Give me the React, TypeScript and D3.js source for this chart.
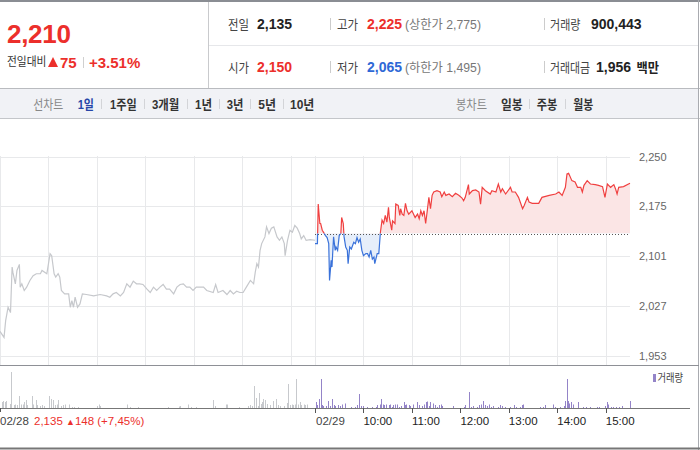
import React from "react";
import * as d3 from "d3";

// ---------- data ----------
const PREV_CLOSE = 2135;

// 02/28 (previous day) minute-from-09:00 and price
const prevTimes = [0,5,7,10,13,15,16,19,21,24,25,27,30,33,37,41,45,50,52,58,62,64,67,69,72,74,76,80,85,87,89,91,93,96,99,102,107,116,124,132,136,140,144,149,153,157,161,165,169,173,177,182,186,190,194,198,202,206,210,215,219,223,227,231,235,239,243,248,252,256,264,267,270,276,281,285,289,293,297,301,305,310,314,316,318,320,322,324,328,330,333,336,339,343,346,349,352,353,356,359,362,365,368,371,373,376,379,384,390];
const prevPrices = [1989,1980,2005,2025,2017,2085,2077,2060,2080,2089,2055,2060,2050,2055,2065,2072,2075,2075,2080,2075,2105,2102,2075,2070,2075,2070,2050,2045,2045,2025,2035,2025,2040,2025,2030,2045,2044,2042,2044,2042,2040,2045,2047,2042,2047,2060,2055,2064,2060,2060,2059,2052,2047,2055,2050,2055,2059,2052,2052,2045,2055,2059,2060,2055,2055,2050,2055,2055,2055,2050,2047,2059,2047,2050,2044,2050,2045,2049,2047,2047,2055,2065,2060,2077,2090,2085,2110,2120,2130,2145,2135,2143,2145,2130,2125,2130,2120,2102,2125,2140,2137,2147,2143,2135,2127,2132,2125,2126,2125];

// 02/29 (today)
const todayTimes = [0,3,4,6,7,9,11,13,15,17,18,20,21,23,25,26,28,30,32,33,35,36,38,40,41,43,45,48,50,52,54,56,58,60,63,65,67,69,71,73,74,77,79,81,83,85,87,89,91,92,95,96,99,100,103,105,106,108,110,112,114,116,120,124,127,129,131,133,135,137,139,141,143,145,147,151,155,157,160,162,166,170,174,178,182,184,186,190,191,195,199,203,205,207,211,217,219,224,227,230,232,236,242,244,248,252,257,259,263,265,269,277,281,290,298,302,306,310,312,314,318,322,325,329,331,333,337,341,347,351,356,359,362,366,370,372,374,376,382,390];
const todayPrices = [2120,2120,2179,2150,2150,2140,2136,2132,2129,2120,2065,2095,2085,2130,2110,2115,2110,2132,2135,2159,2150,2130,2115,2110,2090,2115,2112,2122,2120,2129,2122,2127,2110,2102,2105,2105,2100,2110,2097,2100,2090,2105,2105,2137,2155,2150,2162,2152,2174,2159,2140,2154,2150,2179,2177,2162,2172,2164,2162,2180,2169,2164,2169,2159,2164,2157,2169,2162,2169,2150,2169,2189,2172,2192,2197,2199,2197,2190,2197,2192,2194,2190,2195,2192,2188,2184,2189,2208,2194,2199,2200,2197,2179,2204,2199,2194,2199,2197,2209,2197,2202,2194,2204,2197,2197,2189,2172,2177,2189,2182,2180,2180,2189,2192,2194,2197,2192,2204,2224,2225,2214,2212,2204,2204,2197,2207,2214,2209,2208,2207,2205,2189,2209,2204,2208,2202,2194,2204,2205,2210];

// volume (thousand shares)
const prevVolTimes = [2,4,6,8,12,14,17,19,21,24,26,28,30,32,34,39,41,45,46,49,52,54,61,63,65,68,70,72,76,78,80,86,89,92,97,120,122,124,157,161,171,208,221,223,233,236,243,264,266,280,281,296,307,310,312,315,317,319,321,323,324,326,328,330,334,338,342,344,347,352,355,357,359,361,363,365,367,369,371,373,376,378,380];
const prevVols = [6,7,6,7,4,36,3,3.5,3,12,3.5,3.5,6,8,3,12,3.5,8,3,2,3,2,12,9,8,3,3.5,8,2,3,3.5,3.5,1,1,1,2,3.5,2,3.5,1,1,1,1.5,2,3.5,1,1,8,2,3.5,3.5,1,2,3,2,22,10,2,15,4,6,9,8,4,3,7,9,3,2,2,5,24,3,3.5,3,3.5,29,3.5,6,3,3.5,3,3.5];
const todayVolTimes = [1,3,5,7,9,10,13,16,19,21,23,25,29,31,34,37,45,50,52,55,57,59,64,71,76,77,80,82,84,85,88,91,93,95,97,99,102,104,107,110,112,113,116,118,121,126,129,132,135,137,139,141,142,146,149,151,154,156,157,171,184,186,191,193,195,201,203,206,208,211,213,215,218,220,227,229,232,235,241,246,249,254,256,258,279,282,285,295,297,303,308,310,312,313,315,317,319,325,332,336,341,349,352,359,361,363,366,369,373,376,380,390];
const todayVols = [6,3,9,29,3,2,2,7,2,9,3,2,3,2,3.5,4.5,1,1,3,14,2,2,1,1,1,3,3.5,9,3.5,3,3.5,3,3.5,1,3,3.5,3.5,1,2,6,3,3.5,3,2,3.5,6,3,2,3.5,6,6.5,2,6,4.5,3,1,3,3.5,2,2,1,3,16,1,2,1,3,3.5,7,3,2,3.5,1,2,1,3,2,1,1,3,1,1,3,3.5,1,1,3,3.5,1,1,2,7,29,7,4.5,6,3.5,6,1,1,1,1,1,2,6,3.5,1,1,1,1,2,7];

const priceTickValues = [2250, 2175.75, 2101.5, 2027.25, 1953];
const priceTickLabels = ["2,250", "2,175", "2,101", "2,027", "1,953"];
const hourMinutes = [60, 120, 180, 240, 300, 360];
const hourLabels = ["10:00", "11:00", "12:00", "13:00", "14:00", "15:00"];
const periodTabs = ["1일", "1주일", "3개월", "1년", "3년", "5년", "10년"];
const periodTabX = [77.7, 110, 152, 195, 226.7, 258.3, 290];
const periodTabW = [16.3, 26.7, 27.3, 17, 16.7, 17.7, 24.3];
const periodSepX = [101, 144, 187, 219, 250, 283];
const candleTabs = ["일봉", "주봉", "월봉"];
const candleTabX = [501, 536.7, 573.3];
const candleTabW = [21.7, 20.6, 20];
const candleSepX = [529, 565];

const RED = "#ec2f2b";
const BLUE = "#2e68d6";
const FONT = "'Liberation Sans', Arial, 'Noto Sans CJK KR', sans-serif";

function KText(props: any) {
  const { w, children, ...rest } = props;
  return (
    <text {...rest} textLength={w} lengthAdjust="spacingAndGlyphs">
      {children}
    </text>
  );
}

export default function App() {
  const x = d3.scaleLinear().domain([0, 780]).range([0, 630]);
  const y = d3.scaleLinear().domain([1953, 2250]).range([355.5, 156.5]);
  const yv = d3.scaleLinear().domain([0, 40]).range([408, 368]);

  const prev = prevTimes.map((t, i) => ({ t, p: prevPrices[i] }));
  const today = todayTimes.map((t, i) => ({ t: t + 390, p: todayPrices[i] }));
  const line = d3.line<any>().x((d) => x(d.t)).y((d) => y(d.p));
  const base = y(PREV_CLOSE);
  const area = d3.area<any>().x((d) => x(d.t)).y0(base).y1((d) => y(d.p));

  const vLines: number[] = [];
  hourMinutes.forEach((m) => vLines.push(m));
  vLines.push(390);
  hourMinutes.forEach((m) => vLines.push(390 + m));

  const px = (v: number) => Math.round(v) + 0.5;

  return (
    <svg width={700} height={450} style={{ position: "absolute", left: 0, top: 0, background: "#fff" }} fontFamily={FONT}>
      <defs>
        <clipPath id="above"><rect x={0} y={0} width={700} height={base} /></clipPath>
        <clipPath id="below"><rect x={0} y={base} width={700} height={450 - base} /></clipPath>
      </defs>
      <rect x={0} y={0} width={700} height={450} fill="#fff" />

      {/* header */}
      <line x1={0} x2={700} y1={1} y2={1} stroke="#8a8d93" strokeWidth={2} />
      <line x1={208.5} x2={208.5} y1={2} y2={88} stroke="#c9cacd" />
      <line x1={209} x2={699} y1={45.5} y2={45.5} stroke="#e6e7ea" />
      <line x1={0} x2={700} y1={88.5} y2={88.5} stroke="#b9bbbf" />
      <rect x={0} y={89} width={699} height={29} fill="#f1f2f6" />
      <line x1={0} x2={700} y1={118.5} y2={118.5} stroke="#c4c6ca" />
      <line x1={698.5} x2={698.5} y1={0} y2={450} stroke="#a9abb0" />

      <text x={7} y={43} fontSize={26} fontWeight="bold" fill={RED} letterSpacing={-0.3}>2,210</text>
      <KText x={7} y={66} w={39.5} fontSize={12} fill="#333">전일대비</KText>
      <polygon points="48,67 53,57 58,67" fill={RED} />
      <text x={60} y={68} fontSize={15} fontWeight="bold" fill={RED}>75</text>
      <line x1={83.5} x2={83.5} y1={57} y2={68} stroke="#d0d0d0" />
      <text x={89} y={68} fontSize={15} fontWeight="bold" fill={RED}>+3.51%</text>

      <g fontSize={13}>
        <KText x={228} y={28.5} w={21} fill="#444">전일</KText>
        <text x={257} y={28.5} fontSize={14} fontWeight="bold" fill="#222">2,135</text>
        <line x1={330.5} x2={330.5} y1={18} y2={30} stroke="#ccc" />
        <KText x={337} y={28.5} w={21} fill="#444">고가</KText>
        <text x={367} y={28.5} fontSize={14} fontWeight="bold" fill={RED}>2,225</text>
        <KText x={405} y={28.5} w={76} fontSize={12.5} fill="#777">(상한가 2,775)</KText>
        <line x1={544.5} x2={544.5} y1={18} y2={30} stroke="#ccc" />
        <KText x={550} y={28.5} w={30.5} fill="#444">거래량</KText>
        <text x={591} y={28.5} fontSize={14} fontWeight="bold" fill="#222">900,443</text>

        <KText x={228} y={72} w={21} fill="#444">시가</KText>
        <text x={257} y={72} fontSize={14} fontWeight="bold" fill={RED}>2,150</text>
        <line x1={330.5} x2={330.5} y1={61} y2={73} stroke="#ccc" />
        <KText x={337} y={72} w={21} fill="#444">저가</KText>
        <text x={367} y={72} fontSize={14} fontWeight="bold" fill={BLUE}>2,065</text>
        <KText x={405} y={72} w={76} fontSize={12.5} fill="#777">(하한가 1,495)</KText>
        <line x1={544.5} x2={544.5} y1={61} y2={73} stroke="#ccc" />
        <KText x={550} y={72} w={40} fill="#444">거래대금</KText>
        <text x={596} y={72} fontSize={14} fontWeight="bold" fill="#222">1,956</text>
        <KText x={636.5} y={72} w={22.5} fontSize={13} fontWeight="bold" fill="#222">백만</KText>
      </g>

      {/* toolbar */}
      <g fontSize={13}>
        <KText x={33.3} y={108.5} w={30} fill="#888">선차트</KText>
        {periodTabs.map((t, i) => (
          <KText key={t} x={periodTabX[i]} y={108.5} w={periodTabW[i]} fontWeight="bold" fill={i === 0 ? "#2746a8" : "#333"}>{t}</KText>
        ))}
        {periodSepX.map((sx) => (
          <line key={"ps" + sx} x1={sx + 0.5} x2={sx + 0.5} y1={99} y2={109} stroke="#d3d4d8" />
        ))}
        <KText x={456} y={108.5} w={31} fill="#888">봉차트</KText>
        {candleTabs.map((t, i) => (
          <KText key={t} x={candleTabX[i]} y={108.5} w={candleTabW[i]} fontWeight="bold" fill="#333">{t}</KText>
        ))}
        {candleSepX.map((sx) => (
          <line key={"cs" + sx} x1={sx + 0.5} x2={sx + 0.5} y1={99} y2={109} stroke="#d3d4d8" />
        ))}
      </g>

      {/* grid */}
      {priceTickValues.map((v) => (
        <line key={"h" + v} x1={0} x2={630} y1={px(y(v))} y2={px(y(v))} stroke="#e8e9eb" />
      ))}
      <line x1={0.5} x2={0.5} y1={156} y2={365} stroke="#e8e9eb" />
      {vLines.map((m) => (
        <line key={"v" + m} x1={px(x(m))} x2={px(x(m))} y1={156} y2={365} stroke="#e8e9eb" />
      ))}
      {priceTickValues.map((v, i) => (
        <text key={"pl" + v} x={639} y={y(v) + 4} fontSize={11} fill="#666">{priceTickLabels[i]}</text>
      ))}

      {/* price lines */}
      <path d={line(prev) || ""} fill="none" stroke="#c6c8cc" strokeWidth={1.2} />
      <path d={area(today) || ""} fill="#fbe5e5" clipPath="url(#above)" />
      <path d={area(today) || ""} fill="#e6eefa" clipPath="url(#below)" />
      <line x1={x(390)} x2={x(780)} y1={px(base)} y2={px(base)} stroke="#555" strokeDasharray="1,2" />
      <path d={line(today) || ""} fill="none" stroke="#f04040" strokeWidth={1.2} clipPath="url(#above)" />
      <path d={line(today) || ""} fill="none" stroke="#3a72da" strokeWidth={1.2} clipPath="url(#below)" />

      <line x1={0} x2={699} y1={365.5} y2={365.5} stroke="#8e9096" />

      {/* volume */}
      {prevVolTimes.map((t, i) => (
        <rect key={"pv" + i} x={Math.round(x(t))} y={yv(prevVols[i])} width={1} height={yv(0) - yv(prevVols[i])} fill="#c7c9cd" />
      ))}
      {todayVolTimes.map((t, i) => (
        <rect key={"tv" + i} x={Math.round(x(t + 390))} y={yv(todayVols[i])} width={1} height={yv(0) - yv(todayVols[i])} fill="#9484c8" />
      ))}
      <line x1={0} x2={690} y1={408.5} y2={408.5} stroke="#777" />
      <rect x={653} y={374} width={3} height={8} fill="#9484c8" />
      <KText x={657.5} y={382} w={25.5} fontSize={11} fill="#444">거래량</KText>

      <line x1={0.5} x2={0.5} y1={408} y2={412} stroke="#555" />
      <line x1={px(x(390))} x2={px(x(390))} y1={408} y2={413} stroke="#555" />
      {hourMinutes.map((m) => (
        <line key={"tk" + m} x1={px(x(390 + m))} x2={px(x(390 + m))} y1={408} y2={413} stroke="#555" />
      ))}
      <g fontSize={11.5}>
        <text x={0} y={425} fill="#444">02/28</text>
        <text x={34} y={425} fill={RED}>2,135 <tspan fontSize={9}>▲</tspan>148 (+7,45%)</text>
        <text x={316} y={425} fill="#444">02/29</text>
        {hourMinutes.map((m, i) => (
          <text key={"hl" + m} x={x(390 + m)} y={425} fill="#222">{hourLabels[i]}</text>
        ))}
      </g>
      <line x1={0} x2={700} y1={448.5} y2={448.5} stroke="#777" strokeWidth={2} />
    </svg>
  );
}
